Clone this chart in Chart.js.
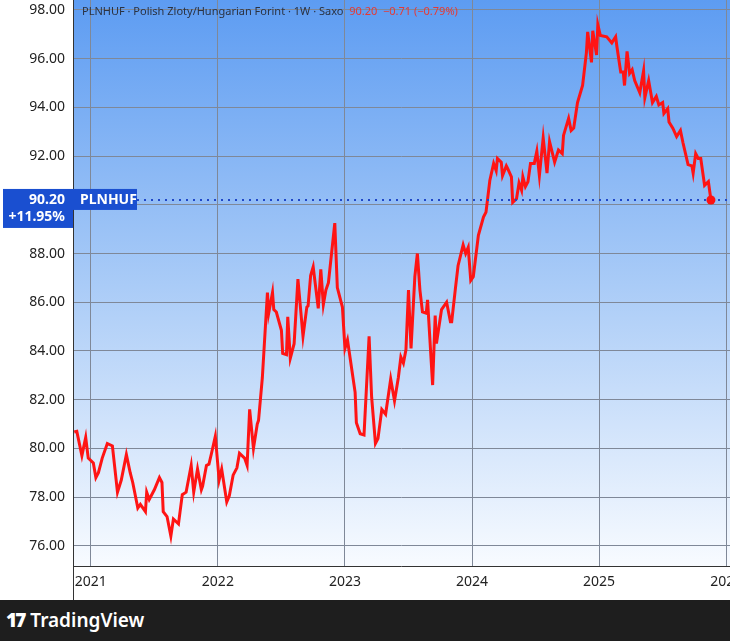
<!DOCTYPE html>
<html>
<head>
<meta charset="utf-8">
<script src="https://cdn.jsdelivr.net/npm/chart.js@4"></script>
<style>
  body { margin: 0; width: 730px; height: 641px; overflow: hidden; background: #fff; font-family: "Noto Sans", sans-serif; }
  #wrap { position: relative; width: 730px; height: 600px; }
  #footer { height: 41px; background: #1e1e1e; color: #fff; font: 600 19px "Noto Sans", sans-serif; line-height: 41px; padding-left: 6px; }
  #footer b { font-weight: 900; letter-spacing: -2px; margin-right: 6px; }
</style>
</head>
<body>
<div id="wrap"><canvas id="chart" width="730" height="600"></canvas></div>
<div id="footer"><b>17</b>TradingView</div>
<script>
// weekly closes, PLN/HUF (x in decimal years)
const years = [2020.87,2020.89,2020.93,2020.96,2020.98,2021.02,2021.04,2021.06,2021.09,2021.13,2021.17,2021.21,2021.24,2021.28,2021.31,2021.33,2021.37,2021.39,2021.43,2021.44,2021.46,2021.50,2021.54,2021.56,2021.57,2021.60,2021.63,2021.65,2021.69,2021.72,2021.75,2021.79,2021.81,2021.84,2021.87,2021.88,2021.91,2021.93,2021.95,2021.98,2022.01,2022.03,2022.07,2022.09,2022.12,2022.15,2022.17,2022.21,2022.23,2022.25,2022.28,2022.31,2022.32,2022.35,2022.39,2022.40,2022.43,2022.44,2022.46,2022.50,2022.51,2022.54,2022.55,2022.57,2022.60,2022.63,2022.67,2022.70,2022.71,2022.73,2022.75,2022.79,2022.81,2022.83,2022.85,2022.87,2022.92,2022.94,2022.98,2023.00,2023.02,2023.08,2023.09,2023.12,2023.15,2023.19,2023.21,2023.24,2023.26,2023.29,2023.32,2023.36,2023.39,2023.42,2023.44,2023.46,2023.48,2023.50,2023.52,2023.55,2023.57,2023.59,2023.61,2023.64,2023.65,2023.69,2023.71,2023.72,2023.76,2023.80,2023.83,2023.84,2023.87,2023.89,2023.93,2023.95,2023.97,2023.99,2024.01,2024.05,2024.09,2024.11,2024.14,2024.17,2024.19,2024.20,2024.23,2024.24,2024.27,2024.28,2024.31,2024.32,2024.35,2024.37,2024.39,2024.40,2024.42,2024.44,2024.46,2024.49,2024.51,2024.53,2024.56,2024.59,2024.61,2024.65,2024.68,2024.71,2024.72,2024.76,2024.78,2024.80,2024.83,2024.87,2024.90,2024.91,2024.94,2024.95,2024.98,2024.99,2025.01,2025.06,2025.10,2025.13,2025.14,2025.17,2025.19,2025.20,2025.22,2025.24,2025.26,2025.28,2025.32,2025.35,2025.36,2025.39,2025.42,2025.45,2025.47,2025.50,2025.51,2025.54,2025.55,2025.58,2025.61,2025.64,2025.66,2025.70,2025.73,2025.74,2025.76,2025.78,2025.80,2025.83,2025.86,2025.88];
const closes = [80.67,80.7,79.7,80.45,79.6,79.4,78.8,79.0,79.6,80.2,80.1,78.2,78.7,79.75,79.0,78.6,77.55,77.7,77.4,78.2,77.9,78.3,78.8,78.6,77.4,77.2,76.4,77.1,76.9,78.1,78.2,79.3,78.2,79.15,78.3,78.45,79.3,79.35,79.8,80.5,78.7,79.15,77.8,78.05,78.9,79.2,79.8,79.6,79.3,81.6,80.0,81.0,81.15,82.9,86.4,85.55,86.4,85.7,85.6,84.85,83.9,83.85,85.4,83.7,84.3,86.95,84.6,85.8,85.85,87.1,87.45,85.75,87.35,85.9,86.5,86.8,89.25,86.6,85.8,84.1,84.45,82.3,81.05,80.6,80.55,84.6,82.1,80.2,80.4,81.6,81.4,82.85,81.95,82.9,83.75,83.5,84.05,86.5,84.1,87.05,88.0,86.5,85.6,85.55,86.1,82.6,85.45,84.3,85.7,86.0,85.2,85.2,86.6,87.5,88.35,88.0,88.25,86.9,87.05,88.75,89.5,89.7,91.0,91.7,91.4,91.9,91.75,91.2,91.6,91.5,91.15,90.1,90.25,90.9,90.6,91.15,90.75,90.95,91.7,91.7,92.2,91.2,92.75,91.3,92.6,91.75,92.25,92.1,92.85,93.55,93.05,93.15,94.2,94.9,96.25,97.1,95.85,97.15,96.15,97.4,96.95,96.9,96.65,96.9,96.5,95.45,95.45,94.9,96.3,95.4,95.55,95.1,94.6,95.5,94.4,95.1,94.2,94.45,94.1,94.2,93.75,93.95,93.4,93.15,92.8,93.05,92.55,91.65,91.6,91.3,92.1,91.9,91.9,90.8,90.95,90.2];
const yearTicks = [2021, 2022, 2023, 2024, 2025, 2026];
const lastPrice = 90.20;
const title = "PLNHUF · Polish Zloty/Hungarian Forint · 1W · Saxo";
const quote = "90.20  −0.71 (−0.79%)";
const changeLabel = "+11.95%";
const symbol = "PLNHUF";

const points = years.map((x, i) => ({ x: x, y: closes[i] }));

// gradient background + overlays
const tvPlugin = {
  id: 'tv',
  beforeDraw(chart) {
    const a = chart.chartArea, c = chart.ctx;
    const g = c.createLinearGradient(0, a.top, 0, a.bottom);
    g.addColorStop(0, '#5d9cf2');
    g.addColorStop(0.5, '#a9cbf7');
    g.addColorStop(1, '#f8fbff');
    c.save();
    c.fillStyle = g;
    c.fillRect(a.left, a.top, a.right - a.left, a.bottom - a.top);
    c.restore();
  },
  afterDraw(chart) {
    const a = chart.chartArea, c = chart.ctx;
    const y = chart.scales.y.getPixelForValue(lastPrice);
    c.save();
    // dotted price line
    c.strokeStyle = '#1f47c8';
    c.lineWidth = 2;
    c.setLineDash([2, 5]);
    c.beginPath(); c.moveTo(a.left + 64, y); c.lineTo(a.right, y); c.stroke();
    c.setLineDash([]);
    // axis lines
    c.strokeStyle = '#333'; c.lineWidth = 1;
    c.beginPath(); c.moveTo(a.left + 0.5, 0); c.lineTo(a.left + 0.5, 600); c.stroke();
    c.beginPath(); c.moveTo(a.left, a.bottom + 0.5); c.lineTo(a.right, a.bottom + 0.5); c.stroke();
    // last point dot
    const xp = chart.scales.x.getPixelForValue(years[years.length - 1]);
    c.fillStyle = '#ff1010';
    c.beginPath(); c.arc(xp, y, 4.5, 0, Math.PI * 2); c.fill();
    // price tag
    c.fillStyle = '#1a4fd0';
    c.fillRect(3, y - 11, a.left - 3, 39);
    c.fillRect(a.left, y - 11, 64, 21);
    c.fillStyle = '#fff';
    c.font = 'bold 14px "Noto Sans"';
    c.textAlign = 'right'; c.textBaseline = 'middle';
    c.fillText(lastPrice.toFixed(2), a.left - 8, y);
    c.fillText(changeLabel, a.left - 8, y + 17);
    c.textAlign = 'left';
    c.fillText(symbol, a.left + 7, y);
    // title
    c.font = '11px "Noto Sans"';
    c.textBaseline = 'middle';
    c.fillStyle = '#2a3242';
    c.fillText(title, a.left + 9, 12);
    const w = c.measureText(title + '  ').width;
    c.fillStyle = '#e53935';
    c.fillText(quote, a.left + 9 + w, 12);
    c.restore();
  }
};

new Chart(document.getElementById('chart'), {
  type: 'line',
  data: {
    datasets: [{
      data: points,
      borderColor: '#ff1414',
      borderWidth: 3,
      pointRadius: 0,
      tension: 0
    }]
  },
  options: {
    responsive: false,
    animation: false,
    layout: { padding: 0 },
    plugins: { legend: { display: false }, tooltip: { enabled: false } },
    scales: {
      x: {
        type: 'linear',
        min: 2020.86,
        max: 2026.03,
        afterFit(s) { s.height = 34; s.paddingLeft = 0; s.paddingRight = 0; },
        afterBuildTicks(s) { s.ticks = yearTicks.map(v => ({ value: v })); },
        grid: { color: '#7f8898', lineWidth: 1, drawTicks: false },
        border: { display: false },
        ticks: { color: '#222', font: { size: 14, family: 'Noto Sans' }, padding: 8, maxRotation: 0, autoSkip: false, callback: v => String(v) }
      },
      y: {
        min: 75.17,
        max: 98.41,
        afterFit(s) { s.width = 73; s.paddingTop = 0; s.paddingBottom = 0; },
        afterBuildTicks(s) { s.ticks = []; for (let v = 76; v <= 98; v += 2) s.ticks.push({ value: v }); },
        grid: { color: '#7f8898', lineWidth: 1, drawTicks: false },
        border: { display: false },
        ticks: { color: '#222', font: { size: 14, family: 'Noto Sans' }, padding: 8, callback: v => v.toFixed(2) }
      }
    }
  },
  plugins: [tvPlugin]
});
</script>
</body>
</html>
